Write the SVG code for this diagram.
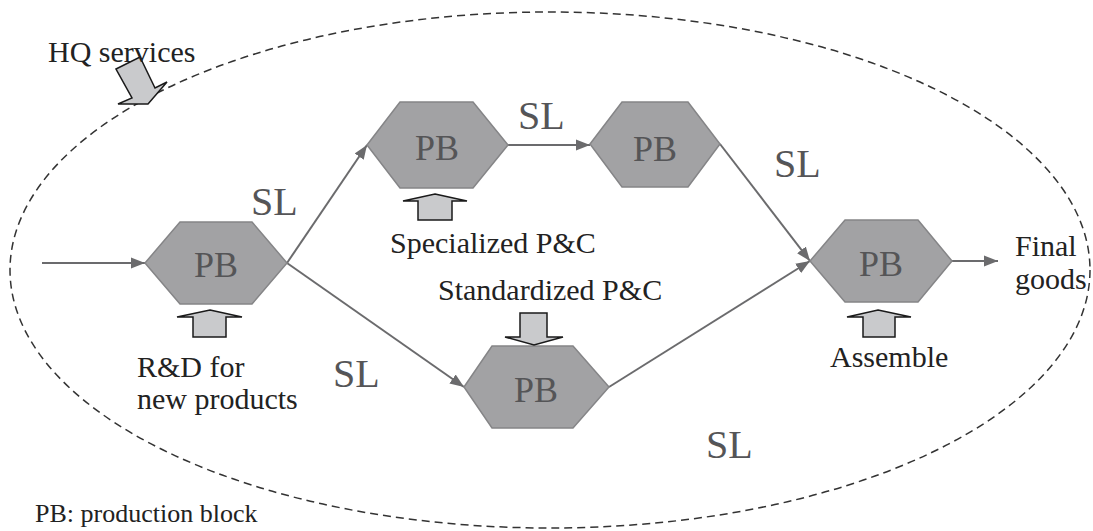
<svg xmlns="http://www.w3.org/2000/svg" width="1093" height="531" viewBox="0 0 1093 531" font-family="'Liberation Serif', Tinos, 'DejaVu Serif', serif">
  <defs>
    <marker id="arrowhead" markerUnits="userSpaceOnUse" markerWidth="15" markerHeight="12" refX="14" refY="6" orient="auto">
      <path d="M0,0.5 L14,6 L0,11.5 z" fill="#6b6b6d"/>
    </marker>
    <style>
      text { font-family: 'Liberation Serif', Tinos, 'DejaVu Serif', serif; }
      .boundary { fill: none; stroke: #333; stroke-width: 1.5; stroke-dasharray: 8 5; }
      .hex { fill: #a2a2a4; stroke: #858587; stroke-width: 1.5; }
      .pb { font-size: 36px; fill: #555557; text-anchor: middle; }
      .sl { font-size: 40px; fill: #555557; }
      .label { font-size: 30px; fill: #222; }
      .note { font-size: 26px; fill: #222; }
      .flow { fill: none; stroke: #6b6b6d; stroke-width: 2; marker-end: url(#arrowhead); }
      .input { fill: #c9cacc; stroke: #1a1a1a; stroke-width: 1.5; stroke-linejoin: miter; }
    </style>
  </defs>

  <!-- firm boundary -->
  <ellipse class="boundary" cx="550" cy="270" rx="540" ry="258"/>

  <!-- supply links -->
  <g id="connectors">
    <line class="flow" x1="42" y1="263" x2="145" y2="263"/>
    <line class="flow" x1="287" y1="263" x2="367" y2="145"/>
    <line class="flow" x1="287" y1="263" x2="464" y2="387"/>
    <line class="flow" x1="508" y1="145" x2="590" y2="145"/>
    <line class="flow" x1="720" y1="144" x2="810" y2="261"/>
    <line class="flow" x1="609" y1="387" x2="810" y2="261"/>
    <line class="flow" x1="952" y1="261" x2="998" y2="261"/>
    <text class="sl" x="251" y="215">SL</text>
    <text class="sl" x="518" y="129">SL</text>
    <text class="sl" x="774" y="177">SL</text>
    <text class="sl" x="333" y="387">SL</text>
    <text class="sl" x="706" y="458">SL</text>
  </g>

  <!-- production blocks -->
  <g id="pb-rd">
    <polygon class="hex" points="145,263 180,222 252,222 287,263 252,304 180,304"/>
    <text class="pb" x="216" y="277">PB</text>
  </g>
  <g id="pb-specialized">
    <polygon class="hex" points="367,145 400,102 473,102 508,145 473,188 400,188"/>
    <text class="pb" x="437" y="160">PB</text>
  </g>
  <g id="pb-upper">
    <polygon class="hex" points="590,144 622,102 688,102 720,144 688,187 622,187"/>
    <text class="pb" x="655" y="161">PB</text>
  </g>
  <g id="pb-standardized">
    <polygon class="hex" points="464,387 492,346 573,346 609,387 573,428 492,428"/>
    <text class="pb" x="536" y="402">PB</text>
  </g>
  <g id="pb-assemble">
    <polygon class="hex" points="810,261 845,220 918,220 952,261 918,302 845,302"/>
    <text class="pb" x="881" y="276">PB</text>
  </g>

  <!-- inputs -->
  <g id="hq-services">
    <polygon class="input" points="116,69 140,57 155,88 167,82 148,104 118,104 132,98"/>
    <text class="label" x="48" y="62">HQ services</text>
  </g>
  <g id="rd-input">
    <polygon class="input" points="210,310 242,317 226,317 226,337 193,337 193,317 177,317"/>
    <text class="label" x="137" y="377">R&amp;D for</text>
    <text class="label" x="137" y="409">new products</text>
  </g>
  <g id="specialized-input">
    <polygon class="input" points="435,194 467,201 452,201 452,220 418,220 418,201 403,201"/>
    <text class="label" x="390" y="253">Specialized P&amp;C</text>
  </g>
  <g id="standardized-input">
    <polygon class="input" points="520,313 547,313 547,337 563,337 534,345 505,337 520,337"/>
    <text class="label" x="438" y="300">Standardized P&amp;C</text>
  </g>
  <g id="assemble-input">
    <polygon class="input" points="878,310 911,317 895,317 895,337 863,337 863,317 847,317"/>
    <text class="label" x="830" y="367">Assemble</text>
  </g>
  <g id="final-goods">
    <text class="label" x="1015" y="256">Final</text>
    <text class="label" x="1015" y="289">goods</text>
  </g>

  <text class="note" x="35" y="522">PB: production block</text>
</svg>
